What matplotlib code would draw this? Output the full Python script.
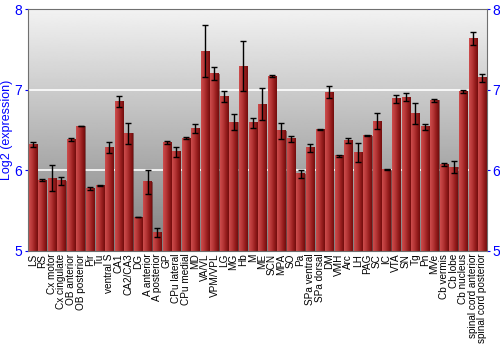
import numpy as np
import matplotlib
matplotlib.use("Agg")
import matplotlib.pyplot as plt

regions = ["LS", "RS", "Cx motor", "Cx cingulate", "OB anterior", "OB posterior",
           "Pir", "Tu", "ventral S", "CA1", "CA2/CA3", "DG", "A anterior",
           "A posterior", "GP", "CPu lateral", "CPu medial", "MD", "VA/VL",
           "VPM/VPL", "LG", "MG", "Hb", "M", "ME", "SCN", "MPA", "SO", "Pa",
           "SPa ventral", "SPa dorsal", "DM", "VMH", "Arc", "LH", "PAG", "SC",
           "IC", "VTA", "SN", "Tg", "Pn", "MVe", "Cb vermis", "Cb lobe",
           "Cb nucleus", "spinal cord anterior", "spinal cord posterior"]
expr = [6.32, 5.88, 5.90, 5.87, 6.38, 6.55, 5.77, 5.81, 6.28, 6.85, 6.46, 5.42,
        5.86, 5.23, 6.35, 6.23, 6.40, 6.52, 7.48, 7.20, 6.92, 6.60, 7.29, 6.59,
        6.82, 7.17, 6.49, 6.39, 5.96, 6.28, 6.51, 6.97, 6.18, 6.37, 6.22, 6.43,
        6.61, 6.01, 6.89, 6.91, 6.71, 6.54, 6.87, 6.07, 6.04, 6.98, 7.64, 7.15]
err = [0.03, 0.01, 0.16, 0.05, 0.02, 0.005, 0.02, 0.01, 0.07, 0.07, 0.13, 0.005,
       0.15, 0.06, 0.02, 0.06, 0.01, 0.06, 0.32, 0.08, 0.07, 0.10, 0.31, 0.06,
       0.20, 0.01, 0.10, 0.04, 0.05, 0.05, 0.005, 0.07, 0.015, 0.025, 0.12, 0.01,
       0.10, 0.005, 0.05, 0.05, 0.13, 0.04, 0.02, 0.02, 0.07, 0.015, 0.08, 0.05]

plt.rcParams['font.family'] = ['Liberation Sans', 'DejaVu Sans']
fig = plt.figure(figsize=(5, 3.5), dpi=100)
ax = fig.add_axes([0.056, 0.283, 0.918, 0.691])

x = np.arange(len(regions))

# grey vertical gradient background
bg = np.linspace(0.5, 0.95, 256).reshape(-1, 1)
ax.imshow(bg, extent=[0, 1, 0, 1], transform=ax.transAxes, cmap='gray',
          vmin=0, vmax=1, origin='lower', aspect='auto', zorder=0)
for yv in [6, 7]:
    ax.axhline(yv, color='white', lw=1.2, zorder=1)

bars = ax.bar(x, np.array(expr) - 5, bottom=5, width=0.86, color='none',
              edgecolor='#5a1010', linewidth=0.4, zorder=2)
red_grad = np.array([[0.80, 0.30, 0.30], [0.72, 0.22, 0.22], [0.60, 0.12, 0.12],
                     [0.45, 0.05, 0.05]])
grad = np.interp(np.linspace(0, 1, 32), np.linspace(0, 1, 4), red_grad[:, 0])
g2 = np.interp(np.linspace(0, 1, 32), np.linspace(0, 1, 4), red_grad[:, 1])
img = np.stack([grad, g2, g2], axis=-1)[None, :, :]
for b in bars:
    x0, y0 = b.get_x(), b.get_y()
    ax.imshow(img, extent=[x0, x0 + b.get_width(), y0, y0 + b.get_height()],
              aspect='auto', zorder=2, interpolation='bilinear')
ax.errorbar(x, expr, yerr=err, fmt='none', ecolor='black', elinewidth=1,
            capsize=2, capthick=1, zorder=3)
ax.set_xlim(-0.5, len(regions) - 0.5)
ax.set_ylim(5, 8)

ax.set_xticks(x)
ax.set_xticklabels(regions, rotation=90, fontsize=7.2)
ax.tick_params(axis='x', length=0, pad=2)
ax.set_yticks([5, 6, 7, 8])
ax.tick_params(axis='y', colors='blue', labelsize=10, length=2, pad=2,
               right=True, labelright=True)
ax.set_ylabel('Log2 (expression)', color='blue', fontsize=9, labelpad=1)
for s in ax.spines.values():
    s.set_color('#707070')

fig.savefig('out.png', dpi=100)
